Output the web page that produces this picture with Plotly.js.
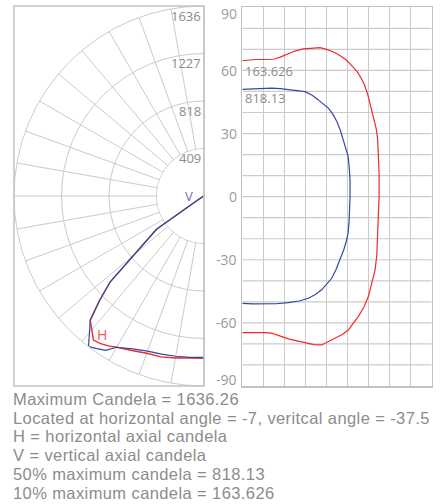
<!DOCTYPE html>
<html><head><meta charset="utf-8">
<script src="https://cdn.plot.ly/plotly-3.0.1.min.js"></script>
<style>
html,body{margin:0;padding:0;background:#fff}
#wrap{position:relative;width:443px;height:504px}
#chart{position:absolute;left:0;top:0;width:443px;height:504px}
#info{position:absolute;left:13px;top:390px;font-family:"Liberation Sans",Arial,sans-serif;font-size:16.5px;line-height:18.7px;letter-spacing:0.4px;color:#8c8c8c;white-space:nowrap}
</style>
</head><body><div id="wrap"><div id="chart"></div><div id="info"></div></div>
<script>
// ---- data ----
const polarTicks = [409, 818, 1227, 1636];
const polarTickLabels = ['409', '818', '1227', '1636'];
const maxCandela = 1636;

// vertical angle (deg from nadir) and candela: vertical axial plane (V)
const vAngles  = [0, 5, 10, 15, 20, 25, 30, 32.5, 35, 37.5, 40, 42.5, 45, 47.5, 55, 57.5, 60, 70, 80, 90];
const vCandela = [1389, 1395, 1401, 1410, 1422, 1452, 1504, 1575, 1605, 1634, 1534, 1450, 1272, 1097, 499, 60, 20, 10, 5, 3];
// horizontal axial plane (H)
const hAngles  = [0, 5, 10, 15, 20, 25, 30, 32.5, 35, 37.5, 40, 42.5, 45, 47.5, 55, 57.5, 60, 70, 80, 90];
const hCandela = [1397, 1400, 1416, 1434, 1441, 1468, 1504, 1530, 1552, 1564, 1503, 1450, 1272, 1097, 499, 60, 20, 10, 5, 3];

// isocandela contour at 10% of max (163.626)
const iso10X = [0, 3, 6, 10, 15, 18, 21, 25, 29, 33, 37, 40, 43, 46, 49, 52, 54.5, 56.5, 58, 59.5, 60.7, 61.8, 62.8, 63.6, 64.3, 64.7, 65, 65,
  64.8, 64.6, 64.4, 63.9, 63.1, 61.8, 59.9, 57.8, 55.1, 52.5, 50.4, 47.5, 44.1, 41, 37.7, 34, 29.8, 25.5, 21.9, 18, 14, 10, 5, 0];
const iso10Y = [64.6, 64.9, 65.2, 65.2, 65.3, 66.3, 67.6, 69.2, 70.2, 70.5, 70.8, 70.0, 68.9, 67.3, 65.3, 62.3, 59.5, 56.3, 53.3, 49.0, 44.4, 40.5, 36.5, 32.5, 27.5, 20, 11, 0,
  -5, -12, -20.6, -28, -34.8, -40.5, -47.5, -52.5, -57, -60.5, -63.4, -65.5, -67.3, -68.8, -70.5, -70.3, -69.2, -68.4, -67.6, -66.2, -64.9, -64.6, -64.6, -64.6];
// isocandela contour at 50% of max (818.13)
const iso50X = [0, 5, 10, 14, 18, 22, 25, 28, 30, 33, 36, 38.5, 41, 43, 45, 46.6, 48, 49.3, 50.2, 50.8, 51.2, 51.2,
  51.1, 50.7, 50.3, 49.6, 48.3, 46.4, 44.6, 42.5, 40, 37.7, 34.5, 31.4, 27, 21.9, 16, 10.8, 5, 0];
const iso50Y = [51, 51.1, 51.5, 51.6, 51.3, 51, 50.7, 50.2, 49.8, 48.3, 46.1, 44.2, 42, 39.2, 35.6, 31.5, 27, 23, 19.5, 14, 8, 0,
  -6, -12.6, -17, -20.6, -25, -30.1, -34.5, -38.8, -41.8, -44.3, -46.6, -48.3, -49.6, -50.4, -50.9, -51.1, -51, -50.7];
const iso10Label = '163.626';
const iso50Label = '818.13';

const isoYGrid = [-80, -70, -60, -50, -40, -30, -20, -10, 0, 10, 20, 30, 40, 50, 60, 70, 80];
const isoYLabelVals = [-90, -60, -30, 0, 30, 60, 90];
const isoYLabels = ['-90', '-60', '-30', '0', '30', '60', '90'];

const infoLines = [
  'Maximum Candela = 1636.26',
  'Located at horizontal angle = -7, veritcal angle = -37.5',
  'H = horizontal axial candela',
  'V = vertical axial candela',
  '50% maximum candela = 818.13',
  '10% maximum candela = 163.626'
];

// ---- layout helpers ----
const W = 443, H = 504;
const px = x => x / W;
const py = y => 1 - y / H;
const FONT = '"Open Sans", sans-serif';
const GRID = '#cbcbcb';
const RED = '#ee2a2a';
const BLUE = '#33489e';
const TXT = '#8c8c8c';
const pL = 14, pR = 204, pT = 6, pB = 386;
const pCy = (pT + pB) / 2, pRad = pR - pL;

// white disc hiding the spokes inside the first ring
const maskTheta = [], maskR = [];
for (let a = 0; a <= 180; a += 3) { maskTheta.push(a); maskR.push(polarTicks[0] - 5); }
maskTheta.push(180, 0); maskR.push(0, 0);

const traces = [
  {type: 'scatterpolar', r: maskR, theta: maskTheta, mode: 'lines', fill: 'toself',
   fillcolor: '#ffffff', line: {width: 0, color: 'rgba(0,0,0,0)'}, hoverinfo: 'skip', showlegend: false},
  {type: 'scatterpolar', r: hCandela, theta: hAngles, mode: 'lines', line: {color: RED, width: 1.4}, showlegend: false},
  {type: 'scatterpolar', r: vCandela, theta: vAngles, mode: 'lines', line: {color: BLUE, width: 1.2}, showlegend: false},
  {type: 'scatter', x: iso10X, y: iso10Y, mode: 'lines', line: {color: RED, width: 1.2}, showlegend: false},
  {type: 'scatter', x: iso50X, y: iso50Y, mode: 'lines', line: {color: BLUE, width: 1.2}, showlegend: false}
];

const annotations = [];
polarTicks.forEach((t, i) => {
  const yPix = pCy - t / maxCandela * pRad + 9.5;
  annotations.push({xref: 'paper', yref: 'paper', x: px(pR - 1.5), y: py(yPix), xanchor: 'right', yanchor: 'middle',
    text: polarTickLabels[i], showarrow: false, font: {family: FONT, size: 13, color: TXT}});
});
isoYLabelVals.forEach((v, i) => {
  annotations.push({xref: 'paper', yref: 'y', x: px(239), y: v, xanchor: 'right', yanchor: 'middle',
    yshift: v === 90 ? -6 : (v === -90 ? 6 : 0),
    text: isoYLabels[i], showarrow: false, font: {family: FONT, size: 14, color: '#9a9a9a'}});
});
annotations.push({xref: 'paper', yref: 'paper', x: px(189), y: py(196), xanchor: 'center', yanchor: 'middle',
  text: 'V', showarrow: false, font: {family: FONT, size: 13, color: '#5b70c4'}});
annotations.push({xref: 'paper', yref: 'paper', x: px(101.5), y: py(334), xanchor: 'center', yanchor: 'middle',
  text: 'H', showarrow: false, font: {family: FONT, size: 14, color: '#f25555'}});
annotations.push({xref: 'x', yref: 'y', x: 0.5, y: 59.9, xanchor: 'left', yanchor: 'middle',
  text: iso10Label, showarrow: false, font: {family: FONT, size: 13, color: TXT}});
annotations.push({xref: 'x', yref: 'y', x: 0.5, y: 46.8, xanchor: 'left', yanchor: 'middle',
  text: iso50Label, showarrow: false, font: {family: FONT, size: 13, color: TXT}});

const shapes = isoYGrid.map(v => ({type: 'line', xref: 'x', yref: 'y', x0: 0, x1: 90, y0: v, y1: v,
  line: {color: GRID, width: 1.2}, layer: 'below'}));
shapes.push({type: 'rect', xref: 'paper', yref: 'paper', x0: px(pL), x1: px(pR), y0: py(pB), y1: py(pT),
  line: {color: '#c2c2c2', width: 1.5}, layer: 'above'});

const layout = {
  width: W, height: H,
  margin: {l: 0, r: 0, t: 0, b: 0},
  paper_bgcolor: 'rgba(0,0,0,0)', plot_bgcolor: '#ffffff',
  showlegend: false,
  font: {family: FONT, color: TXT},
  polar: {
    domain: {x: [px(pL), px(pR)], y: [py(pB), py(pT)]},
    sector: [90, 270],
    bgcolor: '#ffffff',
    radialaxis: {range: [0, maxCandela], tickvals: polarTicks, showticklabels: false, ticks: '',
      showline: false, gridcolor: GRID, gridwidth: 1},
    angularaxis: {rotation: 270, direction: 'clockwise', tickmode: 'linear', tick0: 0, dtick: 10,
      showticklabels: false, ticks: '', gridcolor: GRID, gridwidth: 1, showline: true, linecolor: GRID, linewidth: 1}
  },
  xaxis: {domain: [px(242.3), px(431.7)], range: [0, 90], tickmode: 'linear', tick0: 0, dtick: 10,
    showticklabels: false, ticks: '', showgrid: true, gridcolor: GRID, gridwidth: 1.2, zeroline: false,
    showline: true, mirror: true, linecolor: '#c2c2c2', linewidth: 1.5, fixedrange: true},
  yaxis: {domain: [py(386), py(7.3)], range: [-90, 90], showticklabels: false, ticks: '', showgrid: false,
    zeroline: false, showline: true, mirror: true, linecolor: '#c2c2c2', linewidth: 1.5, fixedrange: true},
  shapes: shapes,
  annotations: annotations
};
Plotly.newPlot('chart', traces, layout, {displayModeBar: false, staticPlot: true});

const info = document.getElementById('info');
infoLines.forEach(s => { const d = document.createElement('div'); d.textContent = s; info.appendChild(d); });
</script>
</body></html>
